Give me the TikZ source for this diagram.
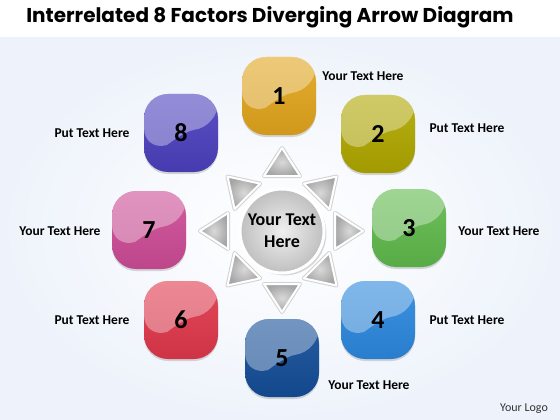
\documentclass[tikz,border=0pt]{standalone}
\usepackage{fontspec}
\setmainfont{Carlito}
\newfontfamily\titlefont{Poppins}
\usetikzlibrary{calc,shadows}

\definecolor{boxgold}{RGB}{226,166,30}
\definecolor{boxolive}{RGB}{176,168,0}
\definecolor{boxgreen}{RGB}{96,186,76}
\definecolor{boxblue}{RGB}{44,136,222}
\definecolor{boxnavy}{RGB}{20,78,152}
\definecolor{boxred}{RGB}{224,56,76}
\definecolor{boxpink}{RGB}{206,76,150}
\definecolor{boxpurple}{RGB}{76,64,190}
\definecolor{paleblue}{RGB}{238,243,251}

\tikzset{
  numbox/.style={rounded corners=24pt, minimum width=74pt, minimum height=78pt, inner sep=0pt,
    font=\bfseries\fontsize{26}{26}\selectfont, text=black,
    drop shadow={shadow xshift=0pt, shadow yshift=-2pt, opacity=.3},
    path picture={
      \fill[white, opacity=.35] (path picture bounding box.north west)
        -- ($(path picture bounding box.north west)!.74!(path picture bounding box.south west)$)
        .. controls ($(path picture bounding box.center)+(-14pt,-12pt)$) and ($(path picture bounding box.center)+(4pt,2pt)$)
        .. ($(path picture bounding box.north east)!.42!(path picture bounding box.south east)$)
        -- (path picture bounding box.north east) -- cycle;}},
  sidetext/.style={font=\bfseries\fontsize{13.5}{15}\selectfont, text=black},
  pointer/.style={draw=white, line width=2pt, line join=round, inner color=gray!30, outer color=gray!70,
    preaction={draw=gray!35, line width=4pt, line join=round}}
}

\begin{document}
\begin{tikzpicture}[x=1pt, y=-1pt]
  \useasboundingbox (0,0) rectangle (560,420);

  % fond
  \fill[white] (0,0) rectangle (560,420);
  \shade[inner color=white, outer color=paleblue] (0,38) rectangle (560,420);

  % titre
  \node[font=\titlefont\bfseries\fontsize{20}{22}\selectfont] (title) at (270,17) {Interrelated 8 Factors Diverging Arrow Diagram};

  % cercle central
  \node[circle, minimum size=84pt, inner sep=0pt, draw=white, line width=3pt,
    inner color=gray!12, outer color=gray!50, drop shadow={opacity=.3},
    align=center, font=\bfseries\fontsize{18}{22}\selectfont] (hub) at (282,231) {Your Text\\Here};

  % triangles
  \foreach \a/\r in {0/68, 45/62, 90/67, 135/62, 180/66, 225/62, 270/66, 315/62} {
    \begin{scope}[shift={(hub.center)}, rotate=\a]
      \path[pointer] (0,-\r-15) -- (18,-\r+13) -- (-18,-\r+13) -- cycle;
    \end{scope}
  }

  % carres numerotes
  \foreach \i/\x/\y/\c in {1/279/96/boxgold, 2/378/134/boxolive, 3/409/228/boxgreen, 4/378/320/boxblue,
      5/282/358/boxnavy, 6/181/320/boxred, 7/149/230/boxpink, 8/181/133/boxpurple} {
    \node[numbox, top color=\c!92!white, bottom color=\c!92!black] (b\i) at (\x,\y) {\i};
  }

  % textes
  \node[sidetext] (t1) at (363,76) {Your Text Here};
  \node[sidetext] (t2) at (467,128) {Put Text Here};
  \node[sidetext] (t3) at (499,231) {Your Text Here};
  \node[sidetext] (t4) at (467,320) {Put Text Here};
  \node[sidetext] (t5) at (369,385) {Your Text Here};
  \node[sidetext] (t6) at (92,320) {Put Text Here};
  \node[sidetext] (t7) at (60,231) {Your Text Here};
  \node[sidetext] (t8) at (92,133) {Put Text Here};

  \node[font=\fontsize{12}{14}\selectfont, text=black!80] (logo) at (524,409) {Your Logo};
\end{tikzpicture}
\end{document}
